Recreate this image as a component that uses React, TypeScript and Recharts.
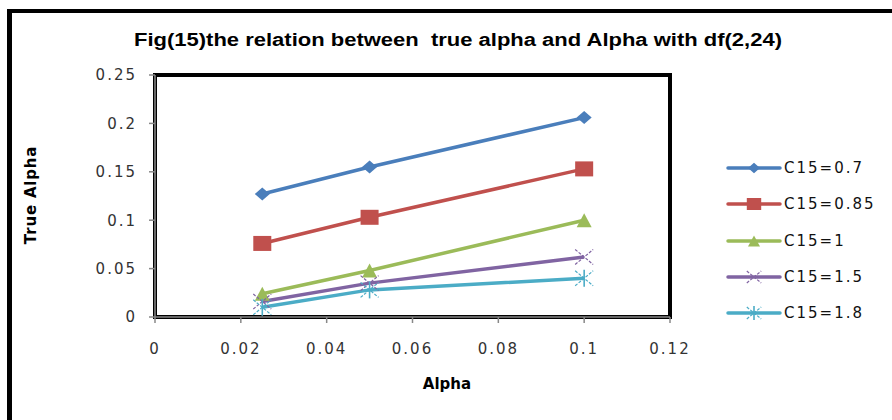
import React from 'react';
import { LineChart, Line, XAxis, YAxis } from 'recharts';

// Alpha levels on the horizontal axis
const alphaLevels = [0.025, 0.05, 0.1];

// True alpha for each C15 setting
const seriesNames = ['C15=0.7', 'C15=0.85', 'C15=1', 'C15=1.5', 'C15=1.8'];
const trueAlphaC07 = [0.127, 0.155, 0.206];
const trueAlphaC085 = [0.076, 0.103, 0.153];
const trueAlphaC1 = [0.024, 0.048, 0.1];
const trueAlphaC15 = [0.016, 0.035, 0.062];
const trueAlphaC18 = [0.01, 0.028, 0.04];

const xTicks = [0, 0.02, 0.04, 0.06, 0.08, 0.1, 0.12];
const yTicks = [0, 0.05, 0.1, 0.15, 0.2, 0.25];

const titleText = 'Fig(15)the relation between  true alpha and Alpha with df(2,24)';
const xLabel = 'Alpha';
const yLabel = 'True Alpha';

const seriesValues = [trueAlphaC07, trueAlphaC085, trueAlphaC1, trueAlphaC15, trueAlphaC18];
const seriesColors = ['#4A7EBB', '#C0504D', '#9BBB59', '#8064A2', '#4BACC6'];
const seriesMarkers = ['diamond', 'square', 'triangle', 'cross', 'star'];

const rows = alphaLevels.map((a, i) => {
  const row: Record<string, number> = { alpha: a };
  seriesValues.forEach((vals, s) => {
    row[`s${s}`] = vals[i];
  });
  return row;
});

type MarkerProps = { kind: string; cx: number; cy: number; color: string; k?: number };

function Marker({ kind, cx, cy, color, k = 1 }: MarkerProps) {
  if (kind === 'diamond') {
    const w = 7.5 * k;
    const h = 6.5 * k;
    return (
      <polygon
        points={`${cx - w},${cy} ${cx},${cy - h} ${cx + w},${cy} ${cx},${cy + h}`}
        fill={color}
      />
    );
  }
  if (kind === 'square') {
    const w = 9 * k;
    const h = 7.5 * k;
    return <rect x={cx - w} y={cy - h} width={2 * w} height={2 * h} fill={color} />;
  }
  if (kind === 'triangle') {
    const w = 7.5 * k;
    const h = 7 * k;
    return (
      <polygon
        points={`${cx - w},${cy + h} ${cx},${cy - h} ${cx + w},${cy + h}`}
        fill={color}
      />
    );
  }
  if (kind === 'cross') {
    const w = 9 * k;
    const h = 7.5 * k;
    return (
      <g stroke={color} strokeWidth={1.2} strokeDasharray="3 1.5" fill="none">
        <line x1={cx - w} y1={cy - h} x2={cx + w} y2={cy + h} />
        <line x1={cx - w} y1={cy + h} x2={cx + w} y2={cy - h} />
      </g>
    );
  }
  // star: cross with a vertical stroke
  const w = 9 * k;
  const h = 7.5 * k;
  return (
    <g stroke={color} strokeWidth={1.2} fill="none">
      <line x1={cx - w} y1={cy - h} x2={cx + w} y2={cy + h} strokeDasharray="3 1.5" />
      <line x1={cx - w} y1={cy + h} x2={cx + w} y2={cy - h} strokeDasharray="3 1.5" />
      <line x1={cx} y1={cy - h - 1} x2={cx} y2={cy + h + 1} strokeWidth={1.6} />
    </g>
  );
}

const tickFont = {
  fontFamily: 'DejaVu Sans',
  fontSize: 15,
  letterSpacing: 2,
  fill: '#333',
};

export default function App() {
  return (
    <div
      style={{
        position: 'absolute',
        left: 0,
        top: 0,
        width: 892,
        height: 420,
        background: '#fff',
        overflow: 'hidden',
      }}
    >
      {/* outer frame */}
      <div style={{ position: 'absolute', left: 7, top: 9, width: 885, height: 4, background: '#000' }} />
      <div style={{ position: 'absolute', left: 7, top: 9, width: 5, height: 411, background: '#000' }} />

      {/* plot area frame */}
      <div
        style={{
          position: 'absolute',
          left: 153,
          top: 73,
          width: 511,
          height: 238,
          border: '4px solid #000',
        }}
      />

      <div style={{ position: 'absolute', left: 0, top: 0 }}>
        <LineChart
          width={892}
          height={420}
          data={rows}
          margin={{ top: 75, right: 222, bottom: 73, left: 95 }}
        >
          <XAxis
            dataKey="alpha"
            type="number"
            domain={[0, 0.12]}
            ticks={xTicks}
            height={30}
            tickSize={6}
            tickMargin={20}
            stroke="#888"
            strokeWidth={1.5}
            tick={tickFont}
            interval={0}
          />
          <YAxis
            type="number"
            domain={[0, 0.25]}
            ticks={yTicks}
            width={60}
            tickSize={6}
            tickMargin={12}
            stroke="#888"
            strokeWidth={1.5}
            tick={tickFont}
            interval={0}
          />
          {seriesNames.map((name, s) => (
            <Line
              key={name}
              name={name}
              dataKey={`s${s}`}
              type="linear"
              stroke={seriesColors[s]}
              strokeWidth={3.5}
              isAnimationActive={false}
              dot={(p: any) => (
                <Marker
                  key={`${name}-${p.index}`}
                  kind={seriesMarkers[s]}
                  cx={p.cx}
                  cy={p.cy}
                  color={seriesColors[s]}
                />
              )}
              activeDot={false}
            />
          ))}
        </LineChart>
      </div>

      {/* titles */}
      <svg width={892} height={420} style={{ position: 'absolute', left: 0, top: 0, pointerEvents: 'none' }}>
        <text
          x={458}
          y={46}
          textAnchor="middle"
          fontFamily="Liberation Sans"
          fontWeight="bold"
          fontSize={18}
          textLength={648}
          lengthAdjust="spacingAndGlyphs"
          style={{ whiteSpace: 'pre' }}
          fill="#000"
        >
          {titleText}
        </text>
        <text
          x={447}
          y={389}
          textAnchor="middle"
          fontFamily="DejaVu Sans"
          fontWeight="bold"
          fontSize={15}
          fill="#000"
        >
          {xLabel}
        </text>
        <text
          x={0}
          y={0}
          transform="translate(36,195) rotate(-90)"
          textAnchor="middle"
          fontFamily="DejaVu Sans"
          fontWeight="bold"
          fontSize={15}
          letterSpacing={0.8}
          fill="#000"
        >
          {yLabel}
        </text>
      </svg>

      {/* legend */}
      <div style={{ position: 'absolute', left: 726, top: 150 }}>
        {seriesNames.map((name, s) => (
          <div key={name} style={{ display: 'flex', alignItems: 'center', height: 36.3 }}>
            <svg width={56} height={20}>
              <line x1={2} y1={10} x2={54} y2={10} stroke={seriesColors[s]} strokeWidth={3.5} strokeLinecap="round" />
              <Marker kind={seriesMarkers[s]} cx={28} cy={10} color={seriesColors[s]} k={0.8} />
            </svg>
            <span
              style={{
                fontFamily: 'DejaVu Sans',
                fontSize: 15,
                letterSpacing: 2,
                color: '#111',
                marginLeft: 2,
                whiteSpace: 'nowrap',
              }}
            >
              {name}
            </span>
          </div>
        ))}
      </div>
    </div>
  );
}
